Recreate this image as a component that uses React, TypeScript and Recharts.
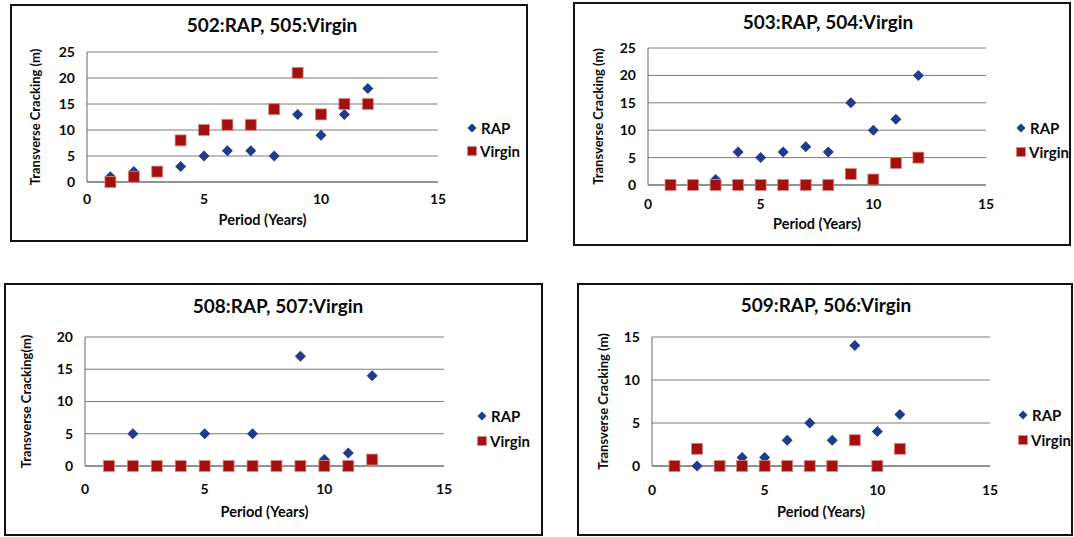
import { ScatterChart, Scatter, XAxis, YAxis, CartesianGrid } from "recharts";

// Transverse cracking (m) by period (years), four RAP / Virgin section pairs
const years = [1, 2, 3, 4, 5, 6, 7, 8, 9, 10, 11, 12];
const years509 = [1, 2, 3, 4, 5, 6, 7, 8, 9, 10, 11];

const rap502 = [1, 2, 2, 3, 5, 6, 6, 5, 13, 9, 13, 18];
const virgin505 = [0, 1, 2, 8, 10, 11, 11, 14, 21, 13, 15, 15];

const rap503 = [0, 0, 1, 6, 5, 6, 7, 6, 15, 10, 12, 20];
const virgin504 = [0, 0, 0, 0, 0, 0, 0, 0, 2, 1, 4, 5];

const rap508 = [0, 5, 0, 0, 5, 0, 5, 0, 17, 1, 2, 14];
const virgin507 = [0, 0, 0, 0, 0, 0, 0, 0, 0, 0, 0, 1];

const rap509 = [0, 0, 0, 1, 1, 3, 5, 3, 14, 4, 6];
const virgin506 = [0, 2, 0, 0, 0, 0, 0, 0, 3, 0, 2];

const xTicks = [0, 5, 10, 15];
const yTicks25 = [0, 5, 10, 15, 20, 25];
const yTicks20 = [0, 5, 10, 15, 20];
const yTicks15 = [0, 5, 10, 15];

const FONT = "Lato, 'Open Sans', sans-serif";
const RAP_COLOR = "#1f3c8a";
const VIRGIN_COLOR = "#a3110f";
const GRID = "#7a7a7a";
const INK = "#0a0a0a";

const toPoints = (xs: number[], ys: number[]) => xs.map((x, i) => ({ x, y: ys[i] }));

function DiamondDot({ cx = 0, cy = 0 }: { cx?: number; cy?: number }) {
  const r = 5.5;
  return <polygon points={`${cx},${cy - r} ${cx + r},${cy} ${cx},${cy + r} ${cx - r},${cy}`} fill={RAP_COLOR} />;
}

function SquareDot({ cx = 0, cy = 0 }: { cx?: number; cy?: number }) {
  const s = 11;
  return <rect x={cx - s / 2} y={cy - s / 2} width={s} height={s} fill={VIRGIN_COLOR} stroke="#d98a86" strokeWidth={0.8} />;
}

interface Layout {
  box: { left: number; top: number; right: number; bottom: number };
  plot: { left: number; right: number; top: number; bottom: number };
  titleX: number;
  titleY: number;
  yTitleX: number;
  xTickY: number;
  xTitleY: number;
  legendX: number;
  legendRapY: number;
  legendVirginY: number;
}

interface PanelProps {
  title: string;
  yTitle: string;
  xs: number[];
  rap: number[];
  virgin: number[];
  yTicks: number[];
  layout: Layout;
}

function Panel({ title, yTitle, xs, rap, virgin, yTicks, layout }: PanelProps) {
  const { box, plot } = layout;
  const border = 2;
  const chartLeft = box.left + border;
  const chartTop = box.top + border;
  const chartW = box.right - box.left - border * 2;
  const chartH = box.bottom - box.top - border * 2;
  const yAxisW = plot.left - chartLeft;
  const xAxisH = chartTop + chartH - plot.bottom;
  const tickFs = 14;

  const legendRow = {
    position: "absolute" as const,
    left: layout.legendX - chartLeft - 5,
    display: "flex",
    alignItems: "center",
    fontSize: 15,
    fontWeight: 700,
    color: INK,
    lineHeight: "18px",
  };

  return (
    <div
      style={{
        position: "absolute",
        left: box.left,
        top: box.top,
        width: box.right - box.left,
        height: box.bottom - box.top,
        boxSizing: "border-box",
        border: `${border}px solid #111`,
        background: "#fff",
        fontFamily: FONT,
      }}
    >
      <div
        style={{
          position: "absolute",
          left: layout.titleX - chartLeft - 150,
          top: layout.titleY - chartTop - 12,
          width: 300,
          textAlign: "center",
          fontSize: 19,
          fontWeight: 700,
          lineHeight: "24px",
          color: INK,
        }}
      >
        {title}
      </div>

      <ScatterChart
        width={chartW}
        height={chartH}
        margin={{ top: plot.top - chartTop, right: chartLeft + chartW - plot.right, bottom: 0, left: 0 }}
      >
        <CartesianGrid horizontal vertical={false} stroke={GRID} strokeWidth={1} />
        <XAxis
          type="number"
          dataKey="x"
          domain={[0, 15]}
          ticks={xTicks}
          height={xAxisH}
          tickLine={false}
          tickSize={0}
          tickMargin={layout.xTickY - plot.bottom - 5}
          axisLine={{ stroke: "#666" }}
          tick={{ fontSize: tickFs, fontWeight: 700, fill: INK, fontFamily: FONT }}
          label={{
            value: "Period (Years)",
            position: "insideBottom",
            offset: chartTop + chartH - (layout.xTitleY + 5),
            fontSize: 14.5,
            fontWeight: 700,
            fill: INK,
            fontFamily: FONT,
          }}
        />
        <YAxis
          type="number"
          dataKey="y"
          domain={[0, yTicks[yTicks.length - 1]]}
          ticks={yTicks}
          width={yAxisW}
          tickLine={false}
          tickSize={0}
          tickMargin={12}
          axisLine={{ stroke: "#666" }}
          tick={{ fontSize: tickFs, fontWeight: 700, fill: INK, fontFamily: FONT }}
          label={{
            value: yTitle,
            angle: -90,
            position: "insideLeft",
            offset: layout.yTitleX - chartLeft,
            fontSize: 13,
            fontWeight: 700,
            fill: INK,
            fontFamily: FONT,
            style: { textAnchor: "middle" },
          }}
        />
        <Scatter name="RAP" data={toPoints(xs, rap)} shape={<DiamondDot />} isAnimationActive={false} />
        <Scatter name="Virgin" data={toPoints(xs, virgin)} shape={<SquareDot />} isAnimationActive={false} />
      </ScatterChart>

      {/* legend */}
      <div style={{ ...legendRow, top: layout.legendRapY - chartTop - 9 }}>
        <svg width={10} height={10} style={{ marginRight: 4 }}>
          <polygon points="5,0.5 9.5,5 5,9.5 0.5,5" fill={RAP_COLOR} />
        </svg>
        RAP
      </div>
      <div style={{ ...legendRow, top: layout.legendVirginY - chartTop - 9 }}>
        <svg width={10} height={10} style={{ marginRight: 3 }}>
          <rect x={0.5} y={0.5} width={9} height={9} fill={VIRGIN_COLOR} stroke="#d98a86" strokeWidth={0.6} />
        </svg>
        Virgin
      </div>
    </div>
  );
}

const layout1: Layout = {
  box: { left: 10, top: 4, right: 528, bottom: 242 },
  plot: { left: 87, right: 438, top: 52, bottom: 182 },
  titleX: 272, titleY: 25, yTitleX: 35, xTickY: 199, xTitleY: 220,
  legendX: 472, legendRapY: 128, legendVirginY: 151,
};
const layout2: Layout = {
  box: { left: 573, top: 2, right: 1071, bottom: 246 },
  plot: { left: 648, right: 986, top: 48, bottom: 185 },
  titleX: 828, titleY: 22, yTitleX: 598, xTickY: 204, xTitleY: 224,
  legendX: 1021, legendRapY: 128, legendVirginY: 152,
};
const layout3: Layout = {
  box: { left: 4, top: 283, right: 543, bottom: 536 },
  plot: { left: 85, right: 444, top: 337, bottom: 466 },
  titleX: 278, titleY: 306, yTitleX: 26, xTickY: 489, xTitleY: 512,
  legendX: 482, legendRapY: 416, legendVirginY: 441,
};
const layout4: Layout = {
  box: { left: 577, top: 283, right: 1073, bottom: 536 },
  plot: { left: 652, right: 990, top: 337, bottom: 466 },
  titleX: 826, titleY: 305, yTitleX: 603, xTickY: 490, xTitleY: 512,
  legendX: 1023, legendRapY: 415, legendVirginY: 440,
};

export default function App() {
  return (
    <div style={{ position: "fixed", left: 0, top: 0, width: 1074, height: 537, background: "#fff", overflow: "hidden" }}>
      <Panel title="502:RAP, 505:Virgin" yTitle="Transverse Cracking (m)" xs={years} rap={rap502} virgin={virgin505} yTicks={yTicks25} layout={layout1} />
      <Panel title="503:RAP, 504:Virgin" yTitle="Transverse Cracking (m)" xs={years} rap={rap503} virgin={virgin504} yTicks={yTicks25} layout={layout2} />
      <Panel title="508:RAP, 507:Virgin" yTitle="Transverse Cracking(m)" xs={years} rap={rap508} virgin={virgin507} yTicks={yTicks20} layout={layout3} />
      <Panel title="509:RAP, 506:Virgin" yTitle="Transverse Cracking (m)" xs={years509} rap={rap509} virgin={virgin506} yTicks={yTicks15} layout={layout4} />
    </div>
  );
}
